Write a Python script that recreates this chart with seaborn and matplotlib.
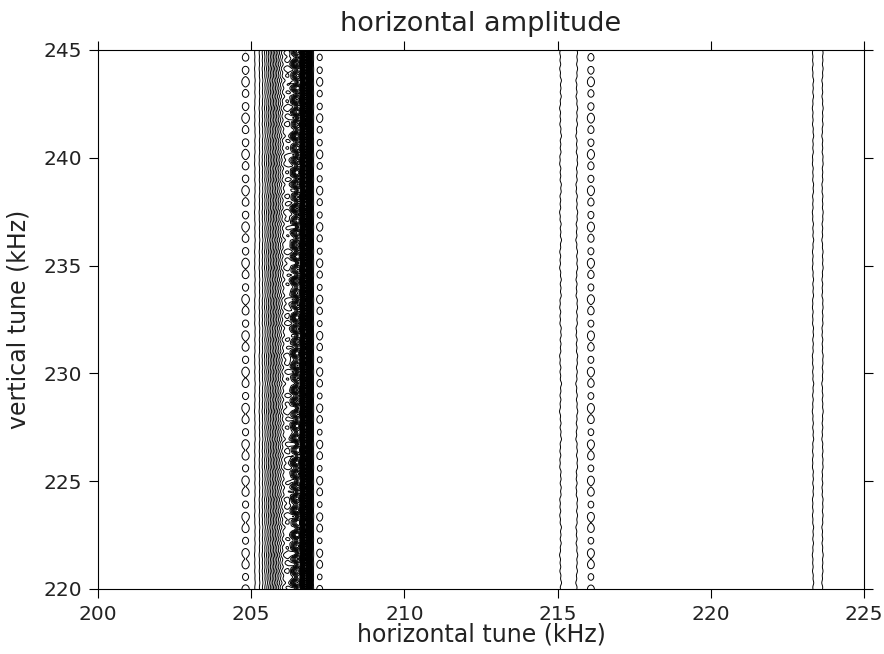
import numpy as np
import matplotlib
matplotlib.use("Agg")
import matplotlib.pyplot as plt
import seaborn as sns

# resonance bands along the horizontal tune (kHz)
peak_center = [206.20, 206.78, 215.36, 223.49]
peak_height = [15.0, 32.0, 1.25, 1.20]
peak_sigma_left = [0.464, 0.09, 0.40, 0.26]
peak_sigma_right = [0.30, 0.09, 0.40, 0.26]

# columns of small closed loops (kHz): extra height and ripple depth
loop_center = [204.80, 206.44, 207.24, 216.10]
loop_height = [1.08, 0.0, 1.10, 0.98]
loop_ripple = [0.40, 3.00, 0.45, 0.40]
loop_width = [0.10, 0.09, 0.09, 0.095]

# ripple along the vertical tune (kHz periods and weights)
ripple_period = [0.56, 1.70]
ripple_weight = [1.0, 0.45]
wiggle_period = [0.37, 0.83, 2.3]
wiggle_weight = [0.02, 0.015, 0.02]

# isolated spot at the right edge
spot_x = [225.12]
spot_y = [225.6]
spot_height = [1.4]

levels = np.arange(1, 51)

x = np.linspace(200, 225, 2501)
y = np.linspace(220, 245, 1251)
X, Y = np.meshgrid(x, y)

g = sum(w * np.cos(2 * np.pi * (Y - 220) / p + i) for i, (p, w) in enumerate(zip(ripple_period, ripple_weight)))
wig = sum(w * np.sin(2 * np.pi * (Y - 220) / p + 2 * i) for i, (p, w) in enumerate(zip(wiggle_period, wiggle_weight)))

Z = np.zeros_like(X)
for c, h, sl, sr in zip(peak_center, peak_height, peak_sigma_left, peak_sigma_right):
    s = np.where(X < c, sl, sr)
    Z += h * np.exp(-0.5 * ((X - c) / s) ** 2)
Z *= 1 + wig
for c, h, r, w in zip(loop_center, loop_height, loop_ripple, loop_width):
    Z += (h + r * g) * np.exp(-0.5 * ((X - c) / w) ** 2)
for sx, sy, h in zip(spot_x, spot_y, spot_height):
    Z += h * np.exp(-0.5 * (((X - sx) / 0.12) ** 2 + ((Y - sy) / 0.25) ** 2))

sns.set_style("ticks")
plt.rcParams['font.family'] = ['DejaVu Sans']
ink = '#222222'

fig = plt.figure(figsize=(8.84, 6.54), dpi=100)
ax = fig.add_axes([0.1109, 0.0994, 0.8665, 0.8242])
ax.contour(X, Y, Z, levels=levels, colors='black', linewidths=0.7)

ax.set_xlim(200, 225)
ax.set_ylim(220, 245)
ax.set_xticks([200, 205, 210, 215, 220, 225])
ax.set_yticks([220, 225, 230, 235, 240, 245])
ax.tick_params(direction='out', length=6.5, width=0.8, top=True, right=True,
               labelsize=14.5, colors='black', labelcolor=ink, pad=5)
for sp in ax.spines.values():
    sp.set_visible(True)
    sp.set_color('black')
    sp.set_linewidth(0.8)
ax.set_xlabel("horizontal tune (kHz)", fontsize=17, labelpad=-1, color=ink)
ax.set_ylabel("vertical tune (kHz)", fontsize=17, labelpad=9, color=ink)
ax.set_title("horizontal amplitude", fontsize=19.5, pad=14, color=ink)

fig.savefig("out.png", dpi=100)
